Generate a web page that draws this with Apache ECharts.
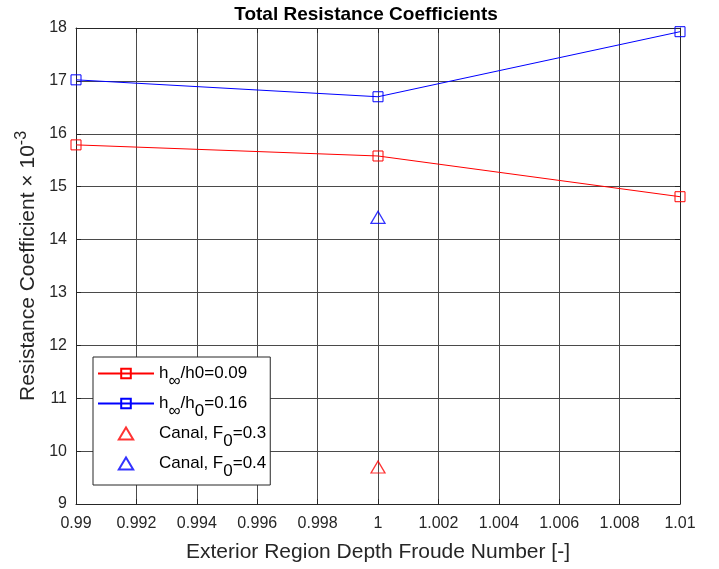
<!DOCTYPE html>
<html><head><meta charset="utf-8">
<script src="https://cdn.jsdelivr.net/npm/echarts@6/dist/echarts.min.js"></script>
<style>html,body{margin:0;padding:0;background:#fff}#c{width:719px;height:569px}</style>
</head><body><div id="c"></div>
<script>
const xTicks = [0.99,0.992,0.994,0.996,0.998,1,1.002,1.004,1.006,1.008,1.01];
const froude = [0.99, 1, 1.01];
const h009 = [15.79, 15.58, 14.81];
const h016 = [17.02, 16.70, 17.93];
const canalF03 = [[1, 9.70]];
const canalF04 = [[1, 14.42]];
const names = ['h∞/h0=0.09','h∞/h0=0.16','Canal, F0=0.3','Canal, F0=0.4'];

const FONT = '"Liberation Sans", Arial, sans-serif';
const TXT = '#262626';
const TRI = 'path://M0,10 L6,0 L12,10 Z';
const chart = echarts.init(document.getElementById('c'));
const pairs = a => froude.map((x,i)=>[x,a[i]]);
const fmtX = v => String(parseFloat(v.toFixed(3)));
const axisCommon = {
  axisLine:{show:true,lineStyle:{color:TXT,width:1}},
  axisTick:{show:true,inside:true,length:5,lineStyle:{color:TXT}},
};
chart.setOption({
  animation:false,
  backgroundColor:'#fff',
  title:{text:'Total Resistance Coefficients',left:361,textAlign:'center',top:0,
    textStyle:{fontFamily:FONT,fontSize:19,fontWeight:'bold',color:'#000'}},
  grid:{left:76,right:39,top:28,bottom:65,show:false},
  legend:{
    orient:'vertical',left:93,top:357,
    backgroundColor:'#fff',borderColor:TXT,borderWidth:1,borderRadius:0,
    padding:[8,4,5,4],itemGap:5,itemWidth:56,itemHeight:12,
    symbolKeepAspect:true,
    data:[{name:names[0]},{name:names[1]},{name:names[2],icon:TRI},{name:names[3],icon:TRI}],
    textStyle:{fontFamily:FONT,fontSize:17,color:'#000',
      rich:{sub:{fontFamily:FONT,fontSize:17,color:'#000',padding:[16,0,0,0]},
            n:{fontFamily:FONT,fontSize:17,color:'#000'}}},
    formatter:function(n){
      if(n===names[0]) return '{n|h}{sub|∞}{n|/h0=0.09}';
      if(n===names[1]) return '{n|h}{sub|∞}{n|/h}{sub|0}{n|=0.16}';
      if(n===names[2]) return '{n|Canal, F}{sub|0}{n|=0.3}';
      return '{n|Canal, F}{sub|0}{n|=0.4}';
    }
  },
  xAxis:[{
    type:'value',min:0.99,max:1.01,interval:0.002,
    name:'Exterior Region Depth Froude Number [-]',nameLocation:'middle',nameGap:38,
    nameTextStyle:{fontFamily:FONT,fontSize:21,color:TXT},
    ...axisCommon,
    axisLabel:{fontFamily:FONT,fontSize:16,color:TXT,margin:12,formatter:fmtX},
    splitLine:{show:true,lineStyle:{color:'#4a4a4a',width:1}}
  },{
    type:'value',position:'top',min:0.99,max:1.01,interval:0.002,
    ...axisCommon,axisLabel:{show:false},splitLine:{show:false}
  }],
  yAxis:[{
    type:'value',min:9,max:18,interval:1,
    name:'Resistance Coefficient × 10{sup|-3}',nameLocation:'middle',nameGap:32,nameRotate:90,
    nameTextStyle:{fontFamily:FONT,fontSize:21,color:TXT,
      rich:{sup:{fontFamily:FONT,fontSize:16,color:TXT,padding:[0,0,12,0]}}},
    ...axisCommon,
    axisLabel:{fontFamily:FONT,fontSize:16,color:TXT,margin:9},
    splitLine:{show:true,lineStyle:{color:'#4a4a4a',width:1}}
  },{
    type:'value',position:'right',min:9,max:18,interval:1,
    ...axisCommon,axisLabel:{show:false},splitLine:{show:false}
  }],
  series:[
    {name:names[0],type:'line',data:pairs(h009),symbol:'rect',symbolSize:10,
     lineStyle:{color:'#ff0000',width:1},
     itemStyle:{color:'rgba(0,0,0,0)',borderColor:'#ff0000',borderWidth:1}},
    {name:names[1],type:'line',data:pairs(h016),symbol:'rect',symbolSize:10,
     lineStyle:{color:'#0000ff',width:1},
     itemStyle:{color:'rgba(0,0,0,0)',borderColor:'#0000ff',borderWidth:1}},
    {name:names[2],type:'scatter',data:canalF03,symbol:TRI,symbolSize:[14,12],
     itemStyle:{color:'rgba(0,0,0,0)',borderColor:'#ff0000',borderWidth:1.3}},
    {name:names[3],type:'scatter',data:canalF04,symbol:TRI,symbolSize:[14,12],
     itemStyle:{color:'rgba(0,0,0,0)',borderColor:'#0000ff',borderWidth:1.3}}
  ]
});
</script></body></html>
